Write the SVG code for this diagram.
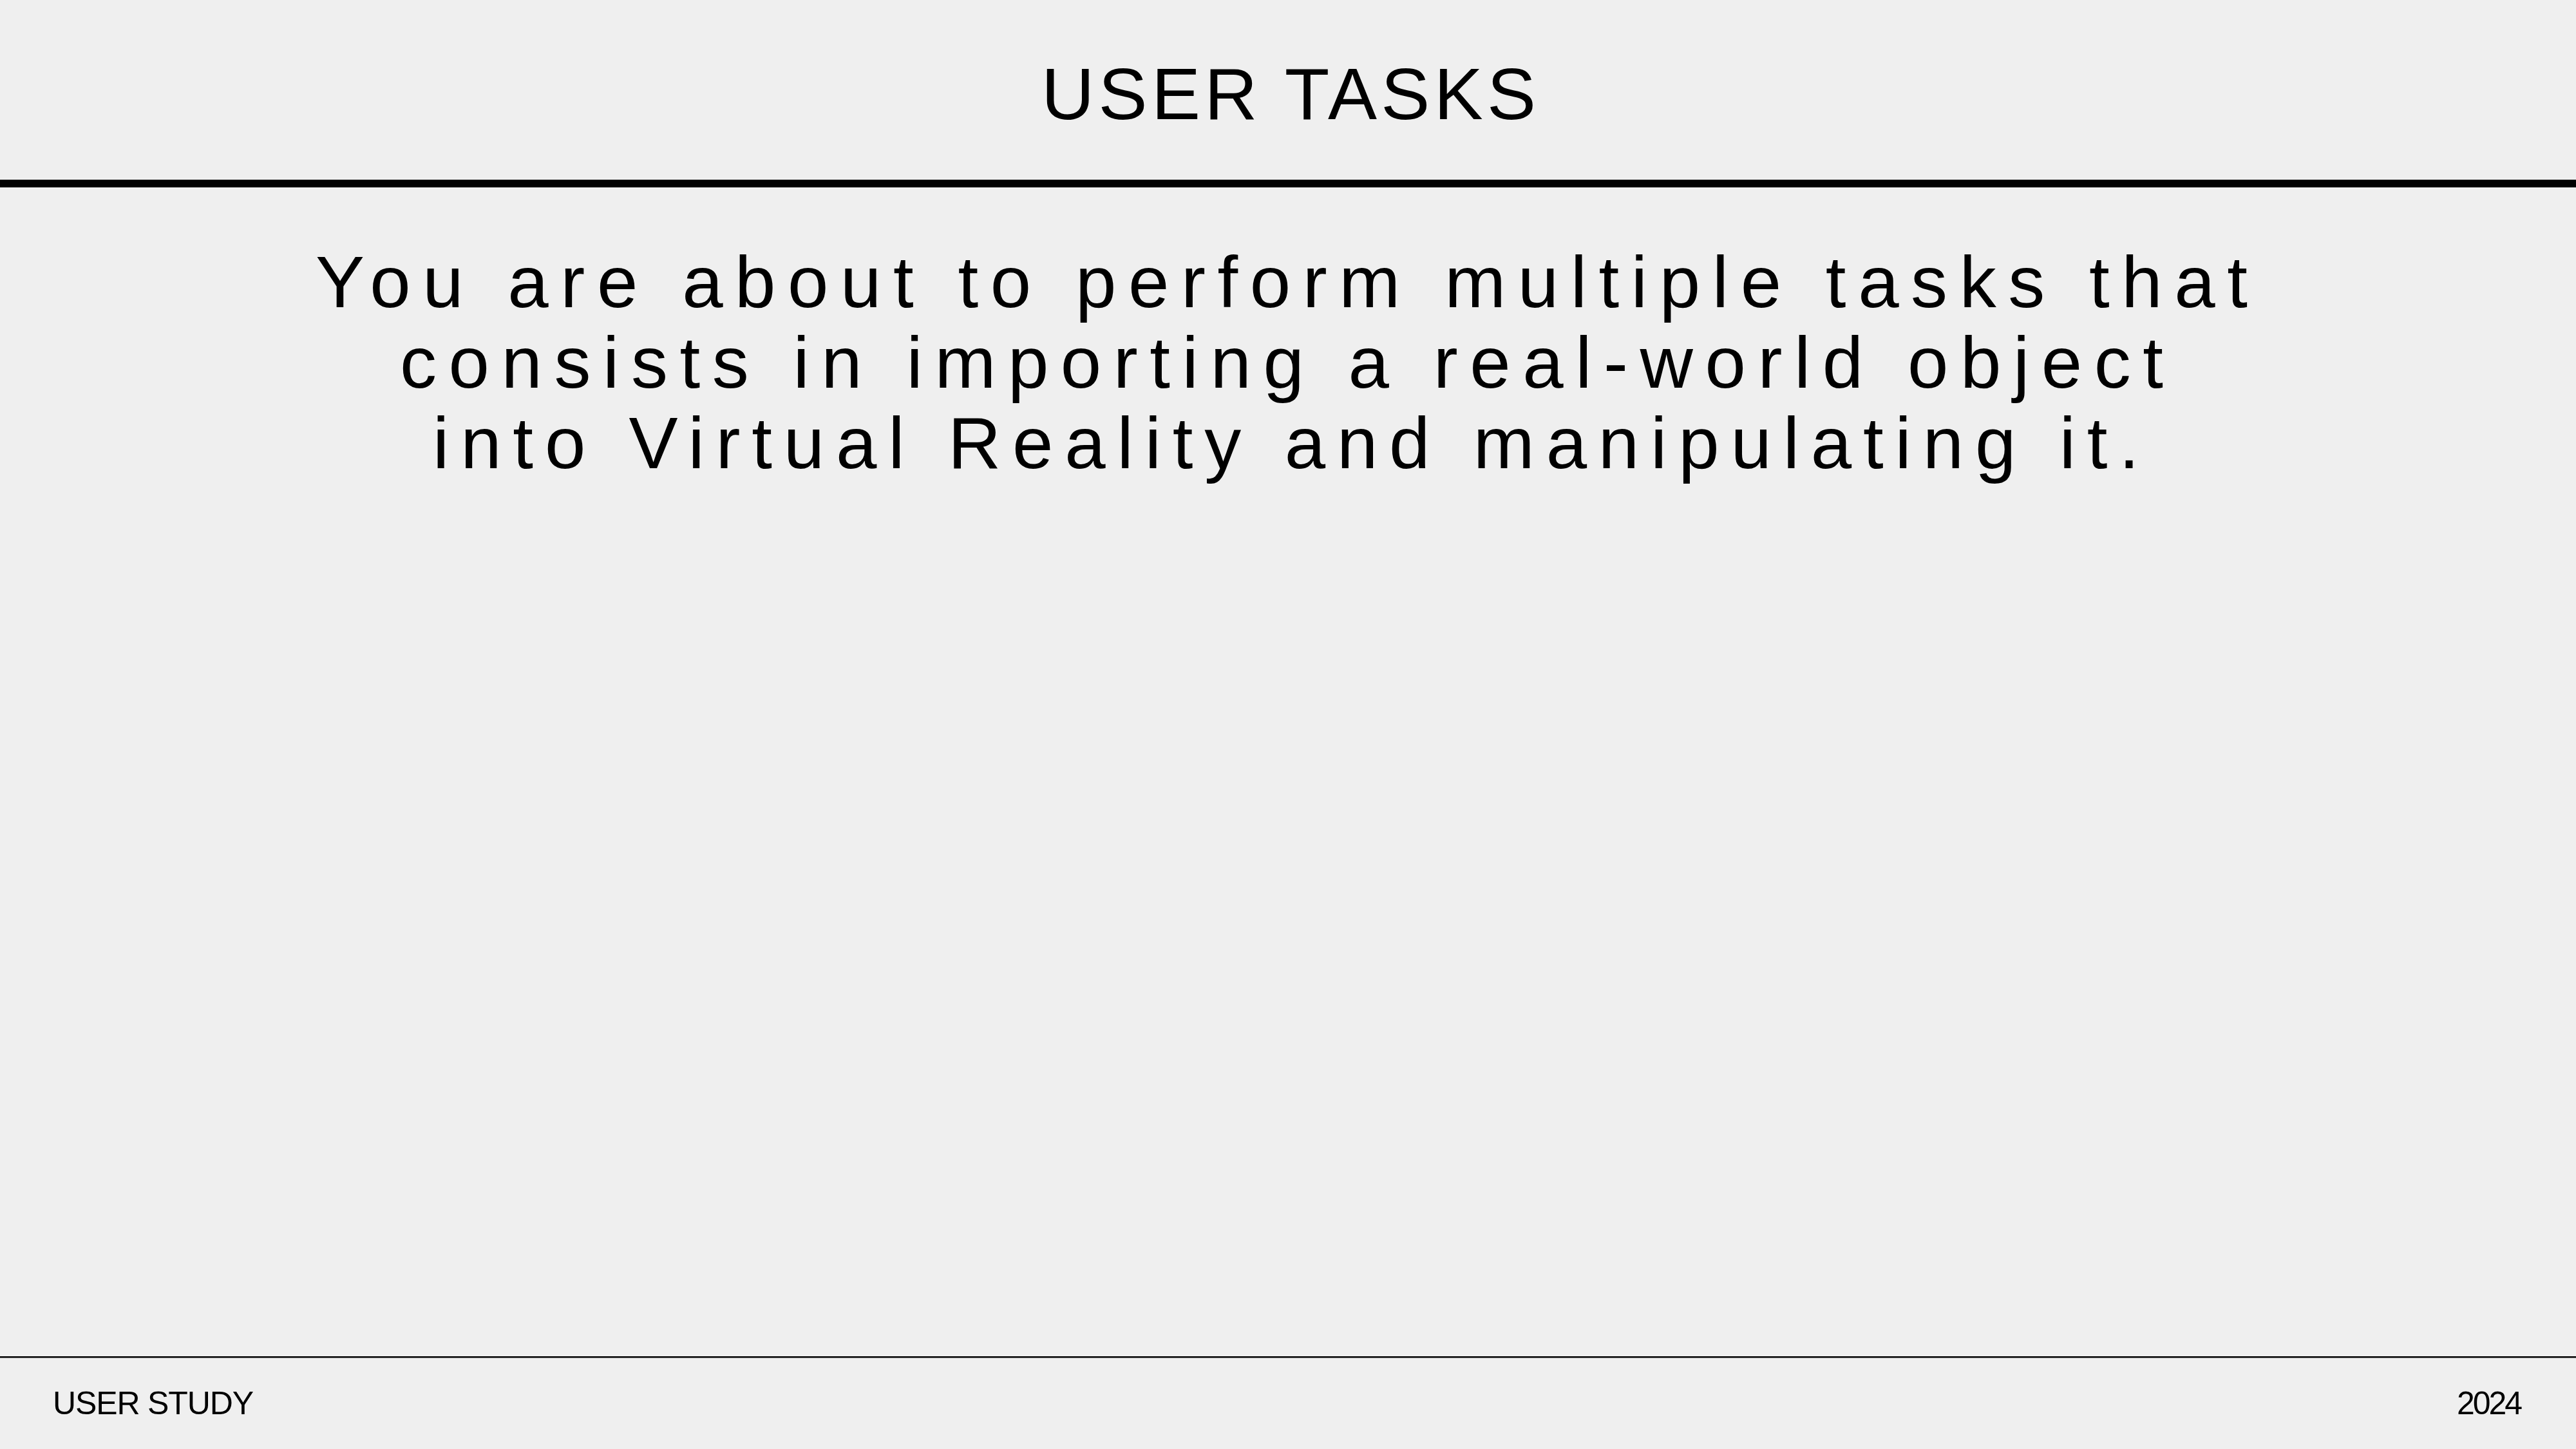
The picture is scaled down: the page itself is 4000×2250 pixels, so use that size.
<svg xmlns="http://www.w3.org/2000/svg" width="4000" height="2250" viewBox="0 0 4000 2250">
  <style>
    .title { font-family: "Liberation Sans", Arial, sans-serif; font-size: 114px; fill: #000; }
    .body { font-family: "Liberation Sans", Arial, sans-serif; font-size: 114px; fill: #000; }
    .foot { font-family: "Liberation Sans", Arial, sans-serif; font-size: 50px; fill: #000; }
  </style>
  <rect x="0" y="0" width="4000" height="2250" fill="#efefef"/>
  <g id="header">
    <text class="title" x="1617" y="185" textLength="768" lengthAdjust="spacing">USER TASKS</text>
    <rect x="0" y="279" width="4000" height="12" fill="#000"/>
  </g>
  <g id="body-text">
    <text class="body" x="490" y="477" textLength="3000" lengthAdjust="spacing">You are about to perform multiple tasks that</text>
    <text class="body" x="621" y="602" textLength="2738" lengthAdjust="spacing">consists in importing a real-world object</text>
    <text class="body" x="672" y="727" textLength="2650" lengthAdjust="spacing">into Virtual Reality and manipulating it.</text>
  </g>
  <g id="footer">
    <rect x="0" y="2106" width="4000" height="2.5" fill="#000"/>
    <text class="foot" x="82" y="2196" textLength="312" lengthAdjust="spacing">USER STUDY</text>
    <text class="foot" x="3815" y="2196" font-size="49" textLength="102" lengthAdjust="spacing">2024</text>
  </g>
</svg>
